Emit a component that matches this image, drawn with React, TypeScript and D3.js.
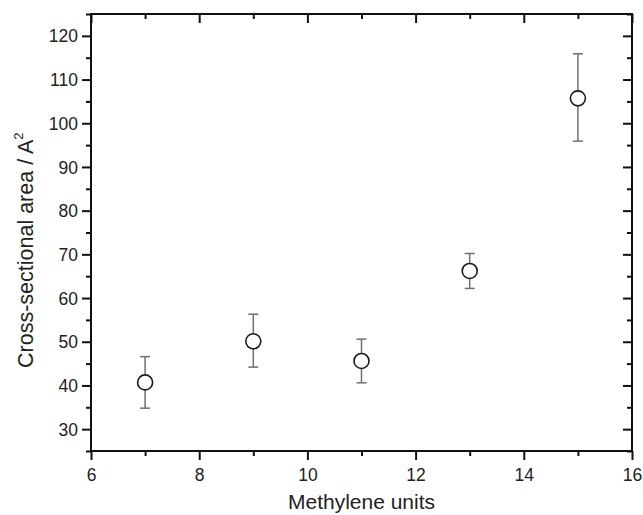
import * as d3 from 'd3';
import React, { useEffect, useRef } from 'react';

// data
const methylene = [7, 9, 11, 13, 15];
const area = [40.7, 50.1, 45.6, 66.2, 105.7];
const errLow = [34.8, 44.2, 40.6, 62.2, 95.9];
const errHigh = [46.6, 56.3, 50.6, 70.2, 115.9];

const xTicks = [6, 8, 10, 12, 14, 16];
const xMinor = [7, 9, 11, 13, 15];
const yTicks = [30, 40, 50, 60, 70, 80, 90, 100, 110, 120];
const yMinor = [25, 35, 45, 55, 65, 75, 85, 95, 105, 115, 125];

const App = () => {
  const svgRef = useRef<SVGSVGElement>(null);

  useEffect(() => {
    const svg = d3.select(svgRef.current);
    svg.selectAll('*').remove();

    const left = 91, right = 632, top = 14, bottom = 451;
    const font = 'Liberation Sans, Arial, sans-serif';

    const x = d3.scaleLinear().domain([6, 16]).range([left, right]);
    const y = d3.scaleLinear().domain([25, 125]).range([bottom, top]);

    // axes: bottom / left outward, top / right inward
    const drawAxis = (axis: any, tickVals: number[], len: number, labels: boolean, tr: string) => {
      const g = svg.append('g').attr('transform', tr)
        .call(axis.tickValues(tickVals).tickSize(len).tickSizeOuter(0).tickFormat(labels ? d3.format('d') : () => ''));
      g.select('.domain').remove();
      g.selectAll('line').attr('stroke', '#111').attr('stroke-width', 2);
      g.attr('font-size', 17.5).attr('font-family', font);
      g.selectAll('text').attr('fill', '#222').attr('font-size', 17.5);
      return g;
    };

    const bx = drawAxis(d3.axisBottom(x), xTicks, 9, true, `translate(0,${bottom})`);
    bx.selectAll('text').attr('dy', null).attr('y', 30);
    drawAxis(d3.axisBottom(x), xMinor, 5, false, `translate(0,${bottom})`);
    const ly = drawAxis(d3.axisLeft(y), yTicks, 9, true, `translate(${left},0)`);
    ly.selectAll('text').attr('x', -13).attr('dy', '0.35em');
    drawAxis(d3.axisLeft(y), yMinor, 5, false, `translate(${left},0)`);

    drawAxis(d3.axisBottom(x), xTicks, 9, false, `translate(0,${top})`);
    drawAxis(d3.axisBottom(x), xMinor, 5, false, `translate(0,${top})`);
    drawAxis(d3.axisLeft(y), yTicks, 9, false, `translate(${right},0)`);
    drawAxis(d3.axisLeft(y), yMinor, 5, false, `translate(${right},0)`);

    // frame
    svg.append('rect')
      .attr('x', left).attr('y', top)
      .attr('width', right - left).attr('height', bottom - top)
      .attr('fill', 'none').attr('stroke', '#111').attr('stroke-width', 2);

    // error bars
    const eg = svg.append('g').attr('stroke', '#707070').attr('stroke-width', 1.5);
    methylene.forEach((m, i) => {
      const cx = x(m);
      eg.append('line').attr('x1', cx).attr('x2', cx).attr('y1', y(errLow[i])).attr('y2', y(errHigh[i]));
      eg.append('line').attr('x1', cx - 5).attr('x2', cx + 5).attr('y1', y(errLow[i])).attr('y2', y(errLow[i]));
      eg.append('line').attr('x1', cx - 5).attr('x2', cx + 5).attr('y1', y(errHigh[i])).attr('y2', y(errHigh[i]));
    });

    // open circles
    svg.append('g')
      .selectAll('circle')
      .data(methylene)
      .enter()
      .append('circle')
        .attr('cx', d => x(d))
        .attr('cy', (d, i) => y(area[i]))
        .attr('r', 7.5)
        .attr('fill', 'white')
        .attr('stroke', '#1a1a1a')
        .attr('stroke-width', 1.6);

    // axis titles
    svg.append('text')
      .attr('x', (left + right) / 2).attr('y', 509)
      .attr('text-anchor', 'middle')
      .attr('font-family', font).attr('font-size', 21).attr('fill', '#222')
      .text('Methylene units');

    const yt = svg.append('text')
      .attr('transform', 'translate(33,368) rotate(-90)')
      .attr('text-anchor', 'start')
      .attr('font-family', font).attr('font-size', 21.5).attr('fill', '#222');
    yt.append('tspan').text('Cross-sectional area / A');
    yt.append('tspan').attr('dy', -10).attr('font-size', 13).text('2');
  }, []);

  return (
    <svg ref={svgRef} width={643} height={515}
      style={{ position: 'absolute', left: 0, top: 0, background: 'white' }} />
  );
};

export default App;
